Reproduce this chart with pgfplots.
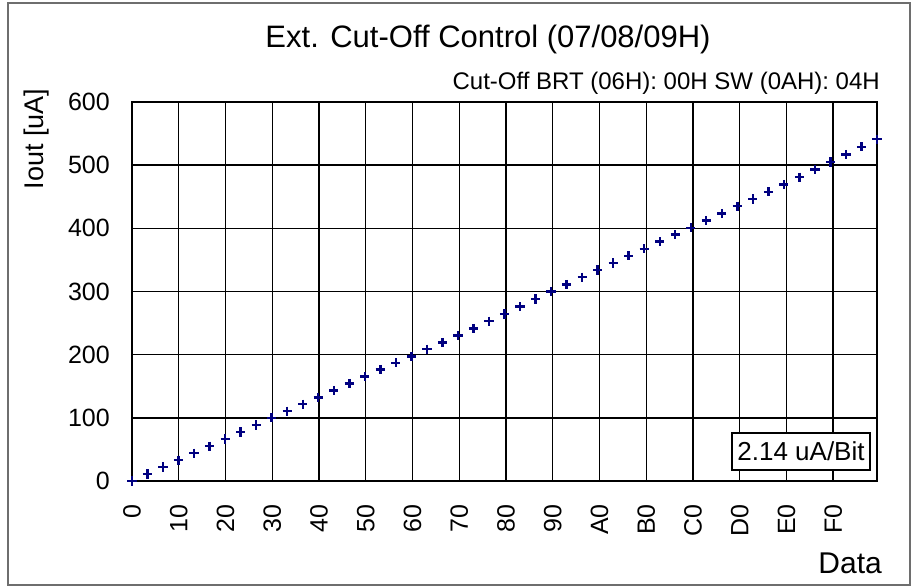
\documentclass[border=0pt]{standalone}
\usepackage{pgfplots}
\pgfplotsset{compat=1.18}
\usepackage{fontspec}
\setmainfont{Liberation Sans}
\definecolor{ptblue}{RGB}{0,0,128}
\definecolor{framegray}{RGB}{110,110,110}
\begin{document}
\begin{tikzpicture}[x=1pt,y=1pt]
\useasboundingbox (0,0) rectangle (911,587);
\draw[framegray, line width=1.2pt] (8,2) rectangle (910,584);
\begin{axis}[
  at={(132pt,106pt)}, anchor=south west,
  scale only axis, width=745pt, height=379pt,
  xmin=0, xmax=255, ymin=0, ymax=600,
  xtick={0,16,...,240},
  xticklabels={0,10,20,30,40,50,60,70,80,90,A0,B0,C0,D0,E0,F0},
  ytick={0,100,...,600},
  major tick length=0pt,
  grid=major,
  major grid style={black, line width=1.4pt},
  axis line style={black, line width=1.4pt},
  /pgf/number format/assume math mode=true,
  tick label style={font=\fontsize{25}{30}\selectfont},
  xticklabel style={rotate=90, anchor=east, inner sep=0pt, xshift=-23pt},
  yticklabel style={anchor=east, inner sep=0pt, xshift=-22pt},
  clip=false,
]
\addplot[only marks, mark=+, mark size=4.6pt, ptblue, line width=2.4pt] coordinates {
(0,0) (5.31,11.2) (10.63,22.3) (15.94,33.0) (21.25,44.0) (26.56,55.2)
(31.88,66.5) (37.19,77.5) (42.5,88.5) (47.81,100.0) (53.13,110.5) (58.44,121.5)
(63.75,132.5) (69.06,143.5) (74.38,154.5) (79.69,165.5) (85.0,176.5) (90.31,187.0)
(95.63,197.0) (100.94,208.5) (106.25,219.5) (111.56,230.5) (116.88,241.5) (122.19,253.0)
(127.5,264.5) (132.81,276.0) (138.13,288.0) (143.44,300.0) (148.75,311.0) (154.06,322.5)
(159.38,334.0) (164.69,345.0) (170.0,356.5) (175.31,367.5) (180.63,379.0) (185.94,390.0)
(191.25,401.0) (196.56,412.5) (201.88,423.5) (207.19,435.0) (212.5,446.5) (217.81,458.0)
(223.13,469.5) (228.44,481.0) (233.75,493.0) (239.06,505.0) (244.38,517.0) (249.69,529.0)
(255.0,541.0)
};
\end{axis}
\node[anchor=base, font=\fontsize{31}{36}\selectfont, inner sep=0pt] at (488,539) {Ext. Cut-Off Control (07/08/09H)};
\node[anchor=base east, font=\fontsize{24}{28}\selectfont, inner sep=0pt] at (880,497) {Cut-Off BRT (06H): 00H SW (0AH): 04H};
\node[rotate=90, font=\fontsize{27}{32}\selectfont, inner sep=0pt] at (37,448) {Iout [uA]};
\node[anchor=base east, font=\fontsize{30}{34}\selectfont, inner sep=0pt] at (882,14) {Data};
\draw[black, fill=white, line width=1.4pt] (732,117) rectangle (870,154);
\node[font=\fontsize{26}{30}\selectfont, inner sep=0pt] at (801,135.5) {2.14 uA/Bit};
\end{tikzpicture}
\end{document}
